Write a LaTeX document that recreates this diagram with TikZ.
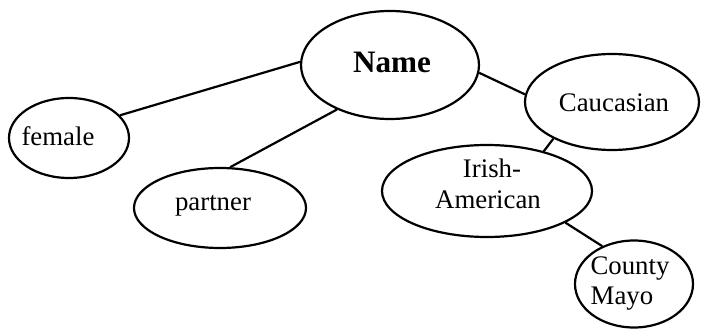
\documentclass[tikz,border=0pt]{standalone}
\usepackage{fontspec}
\setmainfont{Liberation Serif}
\usetikzlibrary{shapes.geometric}
\begin{document}
\begin{tikzpicture}[x=0.5pt,y=-0.5pt,
  oval/.style={draw=black,line width=1.1pt,ellipse,inner sep=0pt},
  lbl/.style={inner sep=0pt,anchor=base,font=\fontsize{13.4}{15}\selectfont},
  conn/.style={draw=black,line width=1.1pt}]
\useasboundingbox (0,0) rectangle (702,331);
\node[oval,minimum width=60pt,minimum height=40pt] (female) at (69,138) {};
\node[oval,minimum width=89pt,minimum height=54pt] (name) at (390,65) {};
\node[oval,minimum width=86pt,minimum height=40pt] (partner) at (220,208) {};
\node[oval,minimum width=87pt,minimum height=48pt] (cauc) at (612,102) {};
\node[oval,minimum width=105pt,minimum height=46pt] (irish) at (487,191) {};
\node[oval,minimum width=59pt,minimum height=43.5pt] (county) at (634,284) {};
\node[lbl] (tfemale) at (58,146) {female};
\node[lbl,font=\fontsize{15.6}{17}\selectfont\bfseries] (tname) at (392,73) {Name};
\node[lbl] (tpartner) at (213,211) {partner};
\node[lbl] (tcauc) at (614,112) {Caucasian};
\node[lbl] (tirish) at (492,178) {Irish-};
\node[lbl] (tamer) at (488,209) {American};
\node[lbl] (tcounty) at (630,275) {County};
\node[lbl] (tmayo) at (622,305) {Mayo};
\draw[conn] (female.24.5) -- (name.178);
\draw[conn] (partner.76.6) -- (name.220.5);
\draw[conn] (name.-5) -- (cauc.175.5);
\draw[conn] (cauc.212.8) -- (irish.35.6);
\draw[conn] (irish.-22) -- (county.130.5);
\end{tikzpicture}
\end{document}
